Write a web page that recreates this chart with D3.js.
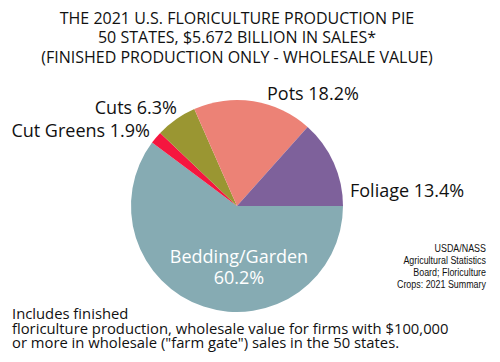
<!DOCTYPE html>
<html>
<head>
<meta charset="utf-8">
<script src="https://cdn.jsdelivr.net/npm/d3@7"></script>
<style>
  body { margin: 0; background: #fff; }
  text { font-family: "Open Sans", "Noto Sans", sans-serif; fill: #111; }
</style>
</head>
<body>
<div id="chart"></div>
<script>
// data ------------------------------------------------------------
var categories = ["Bedding/Garden", "Cut Greens", "Cuts", "Pots", "Foliage"];
var shares = [60.2, 1.9, 6.3, 18.2, 13.4];
var sliceColors = ["#86abb3", "#f5163f", "#9a9632", "#ec8276", "#7e619b"];

var titleLines = ["THE 2021 U.S. FLORICULTURE PRODUCTION PIE",
                  "50 STATES, $5.672 BILLION IN SALES*",
                  "(FINISHED PRODUCTION ONLY - WHOLESALE VALUE)"];
var sourceLines = ["USDA/NASS", "Agricultural Statistics", "Board; Floriculture", "Crops: 2021 Summary"];
var noteLines = ["Includes finished",
                 "floriculture production, wholesale value for firms with $100,000",
                 "or more in wholesale (\"farm gate\") sales in the 50 states."];
//------------------------------------------------------------------

var svgScreen = { width: 500, height: 362 };
var pieCenter = { x: 237, y: 206 };
var radius = 106;

var svg = d3.select("#chart")
  .append("svg")
  .attr("width", svgScreen.width)
  .attr("height", svgScreen.height);

var color = d3.scaleOrdinal().domain(categories).range(sliceColors);

var pie = d3.pie()
  .sort(null)
  .value(function(d) { return d.value; })
  .startAngle(Math.PI / 2)
  .endAngle(Math.PI / 2 + 2 * Math.PI);

var arc = d3.arc().innerRadius(0).outerRadius(radius);

var data = categories.map(function(c, i) { return { name: c, value: shares[i] }; });

svg.append("g")
  .attr("transform", "translate(" + pieCenter.x + "," + pieCenter.y + ")")
  .selectAll("path")
  .data(pie(data))
  .enter()
  .append("path")
  .attr("d", arc)
  .attr("fill", function(d) { return color(d.data.name); });

// title
svg.append("g").selectAll("text")
  .data(titleLines)
  .enter()
  .append("text")
  .attr("x", 237)
  .attr("y", function(d, i) { return 23.5 + i * 19.5; })
  .attr("text-anchor", "middle")
  .style("font-size", "16px")
  .text(function(d) { return d; });

// slice labels (outside), placed by hand next to their slices
var labelPos = {
  "Pots": { x: 267, y: 100, anchor: "start" },
  "Cuts": { x: 177, y: 114, anchor: "end" },
  "Cut Greens": { x: 150, y: 137, anchor: "end" },
  "Foliage": { x: 350, y: 197, anchor: "start" }
};
svg.append("g").selectAll("text")
  .data(data.filter(function(d) { return labelPos[d.name]; }))
  .enter()
  .append("text")
  .attr("x", function(d) { return labelPos[d.name].x; })
  .attr("y", function(d) { return labelPos[d.name].y; })
  .attr("text-anchor", function(d) { return labelPos[d.name].anchor; })
  .style("font-size", "18px")
  .text(function(d) { return d.name + " " + d.value.toFixed(1) + "%"; });

// inside label for biggest slice
var big = data[0];
var inside = svg.append("text")
  .attr("text-anchor", "middle")
  .style("font-size", "18px")
  .style("fill", "#fff");
inside.append("tspan").attr("x", 239).attr("y", 263).text(big.name);
inside.append("tspan").attr("x", 239).attr("y", 284).text(big.value.toFixed(1) + "%");

// source (narrow face in the original, so squeeze it a bit)
svg.append("g").selectAll("text")
  .data(sourceLines)
  .enter()
  .append("text")
  .attr("x", 486)
  .attr("y", function(d, i) { return 252 + i * 12; })
  .attr("text-anchor", "end")
  .style("font-family", "'Liberation Sans', Arial, sans-serif")
  .style("font-size", "10px")
  .text(function(d) { return d; })
  .each(function() {
    var len = this.getComputedTextLength();
    d3.select(this).attr("textLength", len * 0.89).attr("lengthAdjust", "spacingAndGlyphs");
  });

// footnote
svg.append("g").selectAll("text")
  .data(noteLines)
  .enter()
  .append("text")
  .attr("x", 12)
  .attr("y", function(d, i) { return 319 + i * 14.5; })
  .style("font-size", "14.8px")
  .text(function(d) { return d; });
</script>
</body>
</html>
